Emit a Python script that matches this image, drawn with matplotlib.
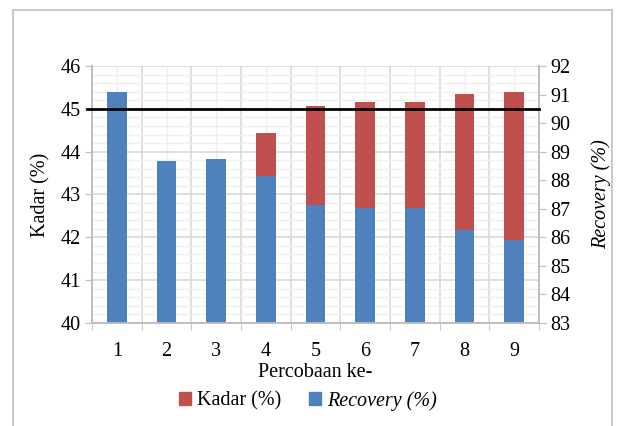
import matplotlib.pyplot as plt
from matplotlib.patches import Rectangle, Patch
from matplotlib.ticker import MultipleLocator, FixedLocator
from matplotlib.transforms import blended_transform_factory

plt.rcParams["font.family"] = ["Liberation Serif", "DejaVu Serif"]

percobaan = [1, 2, 3, 4, 5, 6, 7, 8, 9]
kadar = [43.0, 43.12, 43.18, 44.43, 45.07, 45.16, 45.16, 45.34, 45.40]
recovery = [91.08, 88.67, 88.73, 88.15, 87.12, 87.04, 87.04, 86.27, 85.90]
batas_kadar = 45

RED = "#C0504D"
BLUE = "#4F81BD"
AXIS_GRAY = "#BFBFBF"
FS = 14.5

W, H = 617, 426
fig = plt.figure(figsize=(W / 100, H / 100), dpi=100)
ax = fig.add_axes([92 / W, 1 - 323 / H, (539 - 92) / W, (323 - 66) / H])
ax2 = ax.twinx()

# outer chart frame
fig.patches.append(Rectangle((13 / W, -0.05), (612 - 13) / W, 1.05 - 10 / H,
                             transform=fig.transFigure, fill=False,
                             edgecolor="#BFBFBF", linewidth=1.2))

width = 0.39
ax.bar(percobaan, [k - 40 for k in kadar], bottom=40, width=width, color=RED, zorder=2)
ax2.bar(percobaan, [r - 83 for r in recovery], bottom=83, width=width, color=BLUE, zorder=2)

ax.set_xlim(0.5, 9.5)
ax.set_ylim(40, 46)
ax2.set_ylim(83, 92)

ax.yaxis.set_major_locator(MultipleLocator(1))
ax.yaxis.set_minor_locator(MultipleLocator(0.2))
ax2.yaxis.set_major_locator(MultipleLocator(1))
ax.set_xticks(percobaan)
ax.xaxis.set_minor_locator(FixedLocator([i + 0.5 for i in range(0, 10)]))

# gridlines
ax.set_axisbelow(True)
ax.grid(axis="y", which="major", color="#D9D9D9", linewidth=1.2, zorder=0)
ax.grid(axis="y", which="minor", color="#F0F0F0", linewidth=1.0, zorder=0)
ax.grid(axis="x", which="minor", color="#D9D9D9", linewidth=1.2, zorder=0)
ax.grid(axis="x", which="major", color="#EFEFEF", linewidth=1.0, zorder=0)

for a in (ax, ax2):
    a.spines["top"].set_visible(False)
    for s in ("left", "right", "bottom"):
        a.spines[s].set_color(AXIS_GRAY)
        a.spines[s].set_linewidth(1.2)

ax.tick_params(axis="y", which="major", direction="out", length=5, color=AXIS_GRAY,
               labelsize=FS, pad=3)
ax.tick_params(axis="y", which="minor", length=0)
ax.tick_params(axis="x", which="major", length=0, labelsize=FS, pad=14)
ax.tick_params(axis="x", which="minor", direction="out", length=5, color=AXIS_GRAY)
ax2.tick_params(axis="y", direction="out", length=5, color=AXIS_GRAY, labelsize=FS, pad=3)

ax.set_ylabel("Kadar (%)", fontsize=FS, labelpad=7)
ax2.set_ylabel("Recovery (%)", fontsize=FS, style="italic", labelpad=15)
ax.set_xlabel("Percobaan ke-", fontsize=FS, labelpad=1)

# target line for kadar, drawn above both bar series
trans = blended_transform_factory(ax2.transAxes, ax.transData)
ax2.plot([-0.012, 1.0], [batas_kadar, batas_kadar], transform=trans,
         color="black", linewidth=2, zorder=5, clip_on=False)

handles = [Patch(color=RED), Patch(color=BLUE)]
leg = fig.legend(handles, ["Kadar (%)", "Recovery (%)"], loc="center",
                 bbox_to_anchor=(308 / W, 1 - 401 / H), ncol=2, frameon=False,
                 fontsize=FS, handlelength=0.6, handleheight=0.6,
                 handletextpad=0.3, columnspacing=1.4)
leg.get_texts()[1].set_style("italic")

fig.savefig("out.png", dpi=100)
